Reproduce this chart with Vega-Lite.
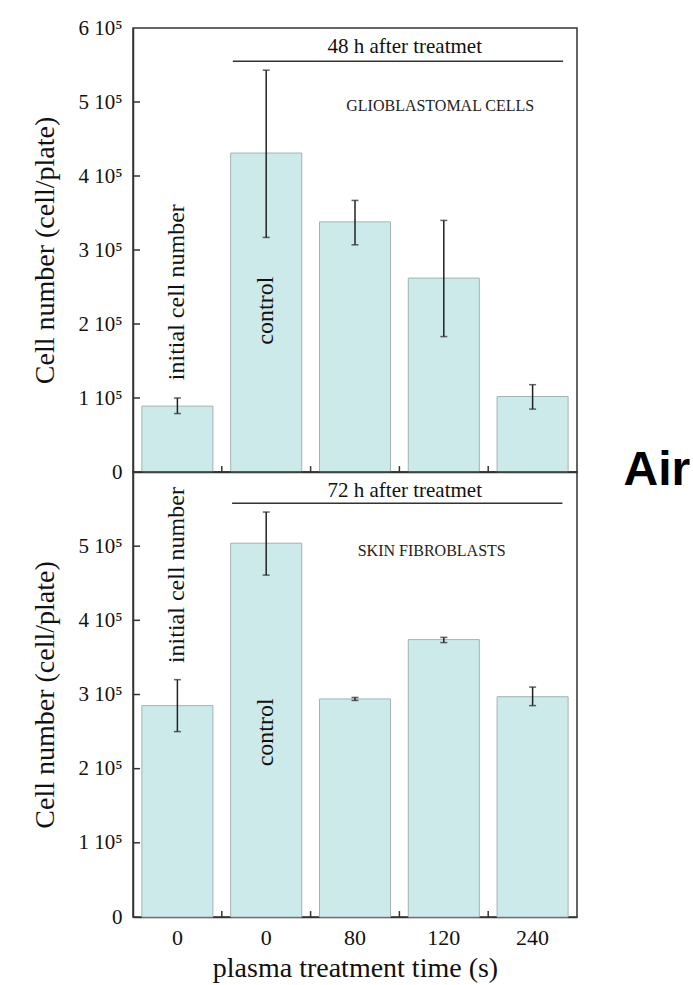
{
  "$schema": "https://vega.github.io/schema/vega-lite/v6.json",
  "background": "white",
  "padding": {"left": 31, "top": 16, "right": 0, "bottom": 0},
  "config": {
    "font": "Liberation Serif",
    "view": {"stroke": "#333", "strokeWidth": 1.5},
    "axis": {"grid": false, "ticks": false, "domainColor": "#333", "domainWidth": 1.5, "labelColor": "#111", "titleColor": "#111", "labelFont": "Liberation Serif", "titleFont": "Liberation Serif", "titleFontWeight": "normal"}
  },
  "datasets": {
    "glio": [
      {"cat": "i0", "value": 89000, "lo": 79000, "hi": 100000},
      {"cat": "c0", "value": 431000, "lo": 317000, "hi": 543000},
      {"cat": "80", "value": 338000, "lo": 307000, "hi": 367000},
      {"cat": "120", "value": 262000, "lo": 183000, "hi": 340000},
      {"cat": "240", "value": 102000, "lo": 85000, "hi": 118000}
    ],
    "fibro": [
      {"cat": "i0", "value": 285000, "lo": 250000, "hi": 320000},
      {"cat": "c0", "value": 504000, "lo": 461000, "hi": 546000},
      {"cat": "80", "value": 294000, "lo": 292000, "hi": 296000},
      {"cat": "120", "value": 374000, "lo": 370000, "hi": 377000},
      {"cat": "240", "value": 297000, "lo": 285000, "hi": 310000}
    ],
    "yticks": [{"v": 100000}, {"v": 200000}, {"v": 300000}, {"v": 400000}, {"v": 500000}],
    "xticks": [{"cat": "c0"}, {"cat": "80"}, {"cat": "120"}, {"cat": "240"}]
  },
  "spacing": 0,
  "bounds": "flush",
  "vconcat": [
    {
      "width": 444,
      "height": 444,
      "data": {"name": "glio"},
      "encoding": {
        "x": {"field": "cat", "type": "nominal", "scale": {"domain": ["i0", "c0", "80", "120", "240"], "paddingInner": 0.2, "paddingOuter": 0.1}, "axis": {"labels": false, "title": null, "domain": true}}
      },
      "layer": [
        {
          "mark": {"type": "bar", "fill": "#cdeaea", "stroke": "#9fb3b3", "strokeWidth": 1},
          "encoding": {
            "y": {"field": "value", "type": "quantitative", "scale": {"domain": [0, 600000], "nice": false}, "axis": {"values": [0, 100000, 200000, 300000, 400000, 500000, 600000], "labelExpr": "datum.value == 0 ? '0' : format(datum.value/100000, 'd') + ' 10⁵'", "title": "Cell number (cell/plate)", "labelPadding": 11, "labelFontSize": 21, "titleFontSize": 28, "titlePadding": 18}}
          }
        },
        {
          "data": {"name": "yticks"},
          "mark": {"type": "rule", "color": "#333", "strokeWidth": 1.5},
          "encoding": {"x": {"datum": "i0", "bandPosition": -0.125}, "x2": {"datum": "i0", "bandPosition": -0.026}, "y": {"field": "v", "type": "quantitative"}}
        },
        {
          "data": {"name": "xticks"},
          "mark": {"type": "rule", "color": "#333", "strokeWidth": 1.5},
          "encoding": {"x": {"field": "cat", "type": "nominal", "bandPosition": -0.125}, "y": {"datum": 0}, "y2": {"datum": 8000}}
        },
        {
          "mark": {"type": "rule", "color": "#222", "strokeWidth": 1.5},
          "encoding": {"y": {"field": "lo", "type": "quantitative"}, "y2": {"field": "hi"}}
        },
        {
          "mark": {"type": "tick", "color": "#222", "thickness": 1.5, "size": 7},
          "encoding": {"y": {"field": "lo", "type": "quantitative"}}
        },
        {
          "mark": {"type": "tick", "color": "#222", "thickness": 1.5, "size": 7},
          "encoding": {"y": {"field": "hi", "type": "quantitative"}}
        },
        {
          "data": {"values": [{}]},
          "mark": {"type": "rule", "color": "#333", "strokeWidth": 1.5},
          "encoding": {"x": {"datum": "c0", "bandPosition": 0.03}, "x2": {"datum": "240", "bandPosition": 0.93}, "y": {"datum": 555000}}
        },
        {
          "data": {"values": [{}]},
          "mark": {"type": "text", "fontSize": 21, "align": "center", "baseline": "middle", "color": "#111"},
          "encoding": {"x": {"datum": "80", "bandPosition": 1.2}, "y": {"datum": 575000}, "text": {"value": "48 h after treatmet"}}
        },
        {
          "data": {"values": [{}]},
          "mark": {"type": "text", "fontSize": 16, "align": "center", "baseline": "middle", "color": "#222"},
          "encoding": {"x": {"datum": "120", "bandPosition": 0.45}, "y": {"datum": 495000}, "text": {"value": "GLIOBLASTOMAL CELLS"}}
        },
        {
          "data": {"values": [{}]},
          "mark": {"type": "text", "fontSize": 24, "angle": 270, "align": "center", "baseline": "middle", "color": "#111"},
          "encoding": {"x": {"datum": "i0", "bandPosition": 0.5}, "y": {"datum": 243000}, "text": {"value": "initial cell number"}}
        },
        {
          "data": {"values": [{}]},
          "mark": {"type": "text", "fontSize": 24, "angle": 270, "align": "center", "baseline": "middle", "color": "#111"},
          "encoding": {"x": {"datum": "c0", "bandPosition": 0.5}, "y": {"datum": 218000}, "text": {"value": "control"}}
        },
        {
          "data": {"values": [{}]},
          "mark": {"type": "text", "font": "Liberation Sans", "fontWeight": "bold", "fontSize": 48, "align": "center", "baseline": "alphabetic", "dy": 13, "color": "#000"},
          "encoding": {"x": {"datum": "240", "bandPosition": 2.25}, "y": {"datum": 0}, "text": {"value": "Air"}}
        }
      ]
    },
    {
      "width": 444,
      "height": 445,
      "data": {"name": "fibro"},
      "encoding": {
        "x": {"field": "cat", "type": "nominal", "scale": {"domain": ["i0", "c0", "80", "120", "240"], "paddingInner": 0.2, "paddingOuter": 0.1}, "axis": {"labelExpr": "datum.value == 'i0' || datum.value == 'c0' ? '0' : datum.value", "labelAngle": 0, "title": "plasma treatment time (s)", "labelPadding": 10, "labelFontSize": 22, "titleFontSize": 28, "titlePadding": 6}}
      },
      "layer": [
        {
          "mark": {"type": "bar", "fill": "#cdeaea", "stroke": "#9fb3b3", "strokeWidth": 1},
          "encoding": {
            "y": {"field": "value", "type": "quantitative", "scale": {"domain": [0, 600000], "nice": false}, "axis": {"values": [0, 100000, 200000, 300000, 400000, 500000], "labelExpr": "datum.value == 0 ? '0' : format(datum.value/100000, 'd') + ' 10⁵'", "title": "Cell number (cell/plate)", "labelPadding": 11, "labelFontSize": 21, "titleFontSize": 28, "titlePadding": 18}}
          }
        },
        {
          "data": {"name": "yticks"},
          "mark": {"type": "rule", "color": "#333", "strokeWidth": 1.5},
          "encoding": {"x": {"datum": "i0", "bandPosition": -0.125}, "x2": {"datum": "i0", "bandPosition": -0.026}, "y": {"field": "v", "type": "quantitative"}}
        },
        {
          "data": {"name": "xticks"},
          "mark": {"type": "rule", "color": "#333", "strokeWidth": 1.5},
          "encoding": {"x": {"field": "cat", "type": "nominal", "bandPosition": -0.125}, "y": {"datum": 0}, "y2": {"datum": 8000}}
        },
        {
          "mark": {"type": "rule", "color": "#222", "strokeWidth": 1.5},
          "encoding": {"y": {"field": "lo", "type": "quantitative"}, "y2": {"field": "hi"}}
        },
        {
          "mark": {"type": "tick", "color": "#222", "thickness": 1.5, "size": 7},
          "encoding": {"y": {"field": "lo", "type": "quantitative"}}
        },
        {
          "mark": {"type": "tick", "color": "#222", "thickness": 1.5, "size": 7},
          "encoding": {"y": {"field": "hi", "type": "quantitative"}}
        },
        {
          "data": {"values": [{}]},
          "mark": {"type": "rule", "color": "#333", "strokeWidth": 1.5},
          "encoding": {"x": {"datum": "c0", "bandPosition": 0.02}, "x2": {"datum": "240", "bandPosition": 0.92}, "y": {"datum": 558000}}
        },
        {
          "data": {"values": [{}]},
          "mark": {"type": "text", "fontSize": 21, "align": "center", "baseline": "middle", "color": "#111"},
          "encoding": {"x": {"datum": "80", "bandPosition": 1.2}, "y": {"datum": 575000}, "text": {"value": "72 h after treatmet"}}
        },
        {
          "data": {"values": [{}]},
          "mark": {"type": "text", "fontSize": 16, "align": "center", "baseline": "middle", "color": "#222"},
          "encoding": {"x": {"datum": "120", "bandPosition": 0.33}, "y": {"datum": 493000}, "text": {"value": "SKIN FIBROBLASTS"}}
        },
        {
          "data": {"values": [{}]},
          "mark": {"type": "text", "fontSize": 24, "angle": 270, "align": "center", "baseline": "middle", "color": "#111"},
          "encoding": {"x": {"datum": "i0", "bandPosition": 0.5}, "y": {"datum": 461000}, "text": {"value": "initial cell number"}}
        },
        {
          "data": {"values": [{}]},
          "mark": {"type": "text", "fontSize": 24, "angle": 270, "align": "center", "baseline": "middle", "color": "#111"},
          "encoding": {"x": {"datum": "c0", "bandPosition": 0.5}, "y": {"datum": 249000}, "text": {"value": "control"}}
        }
      ]
    }
  ]
}
